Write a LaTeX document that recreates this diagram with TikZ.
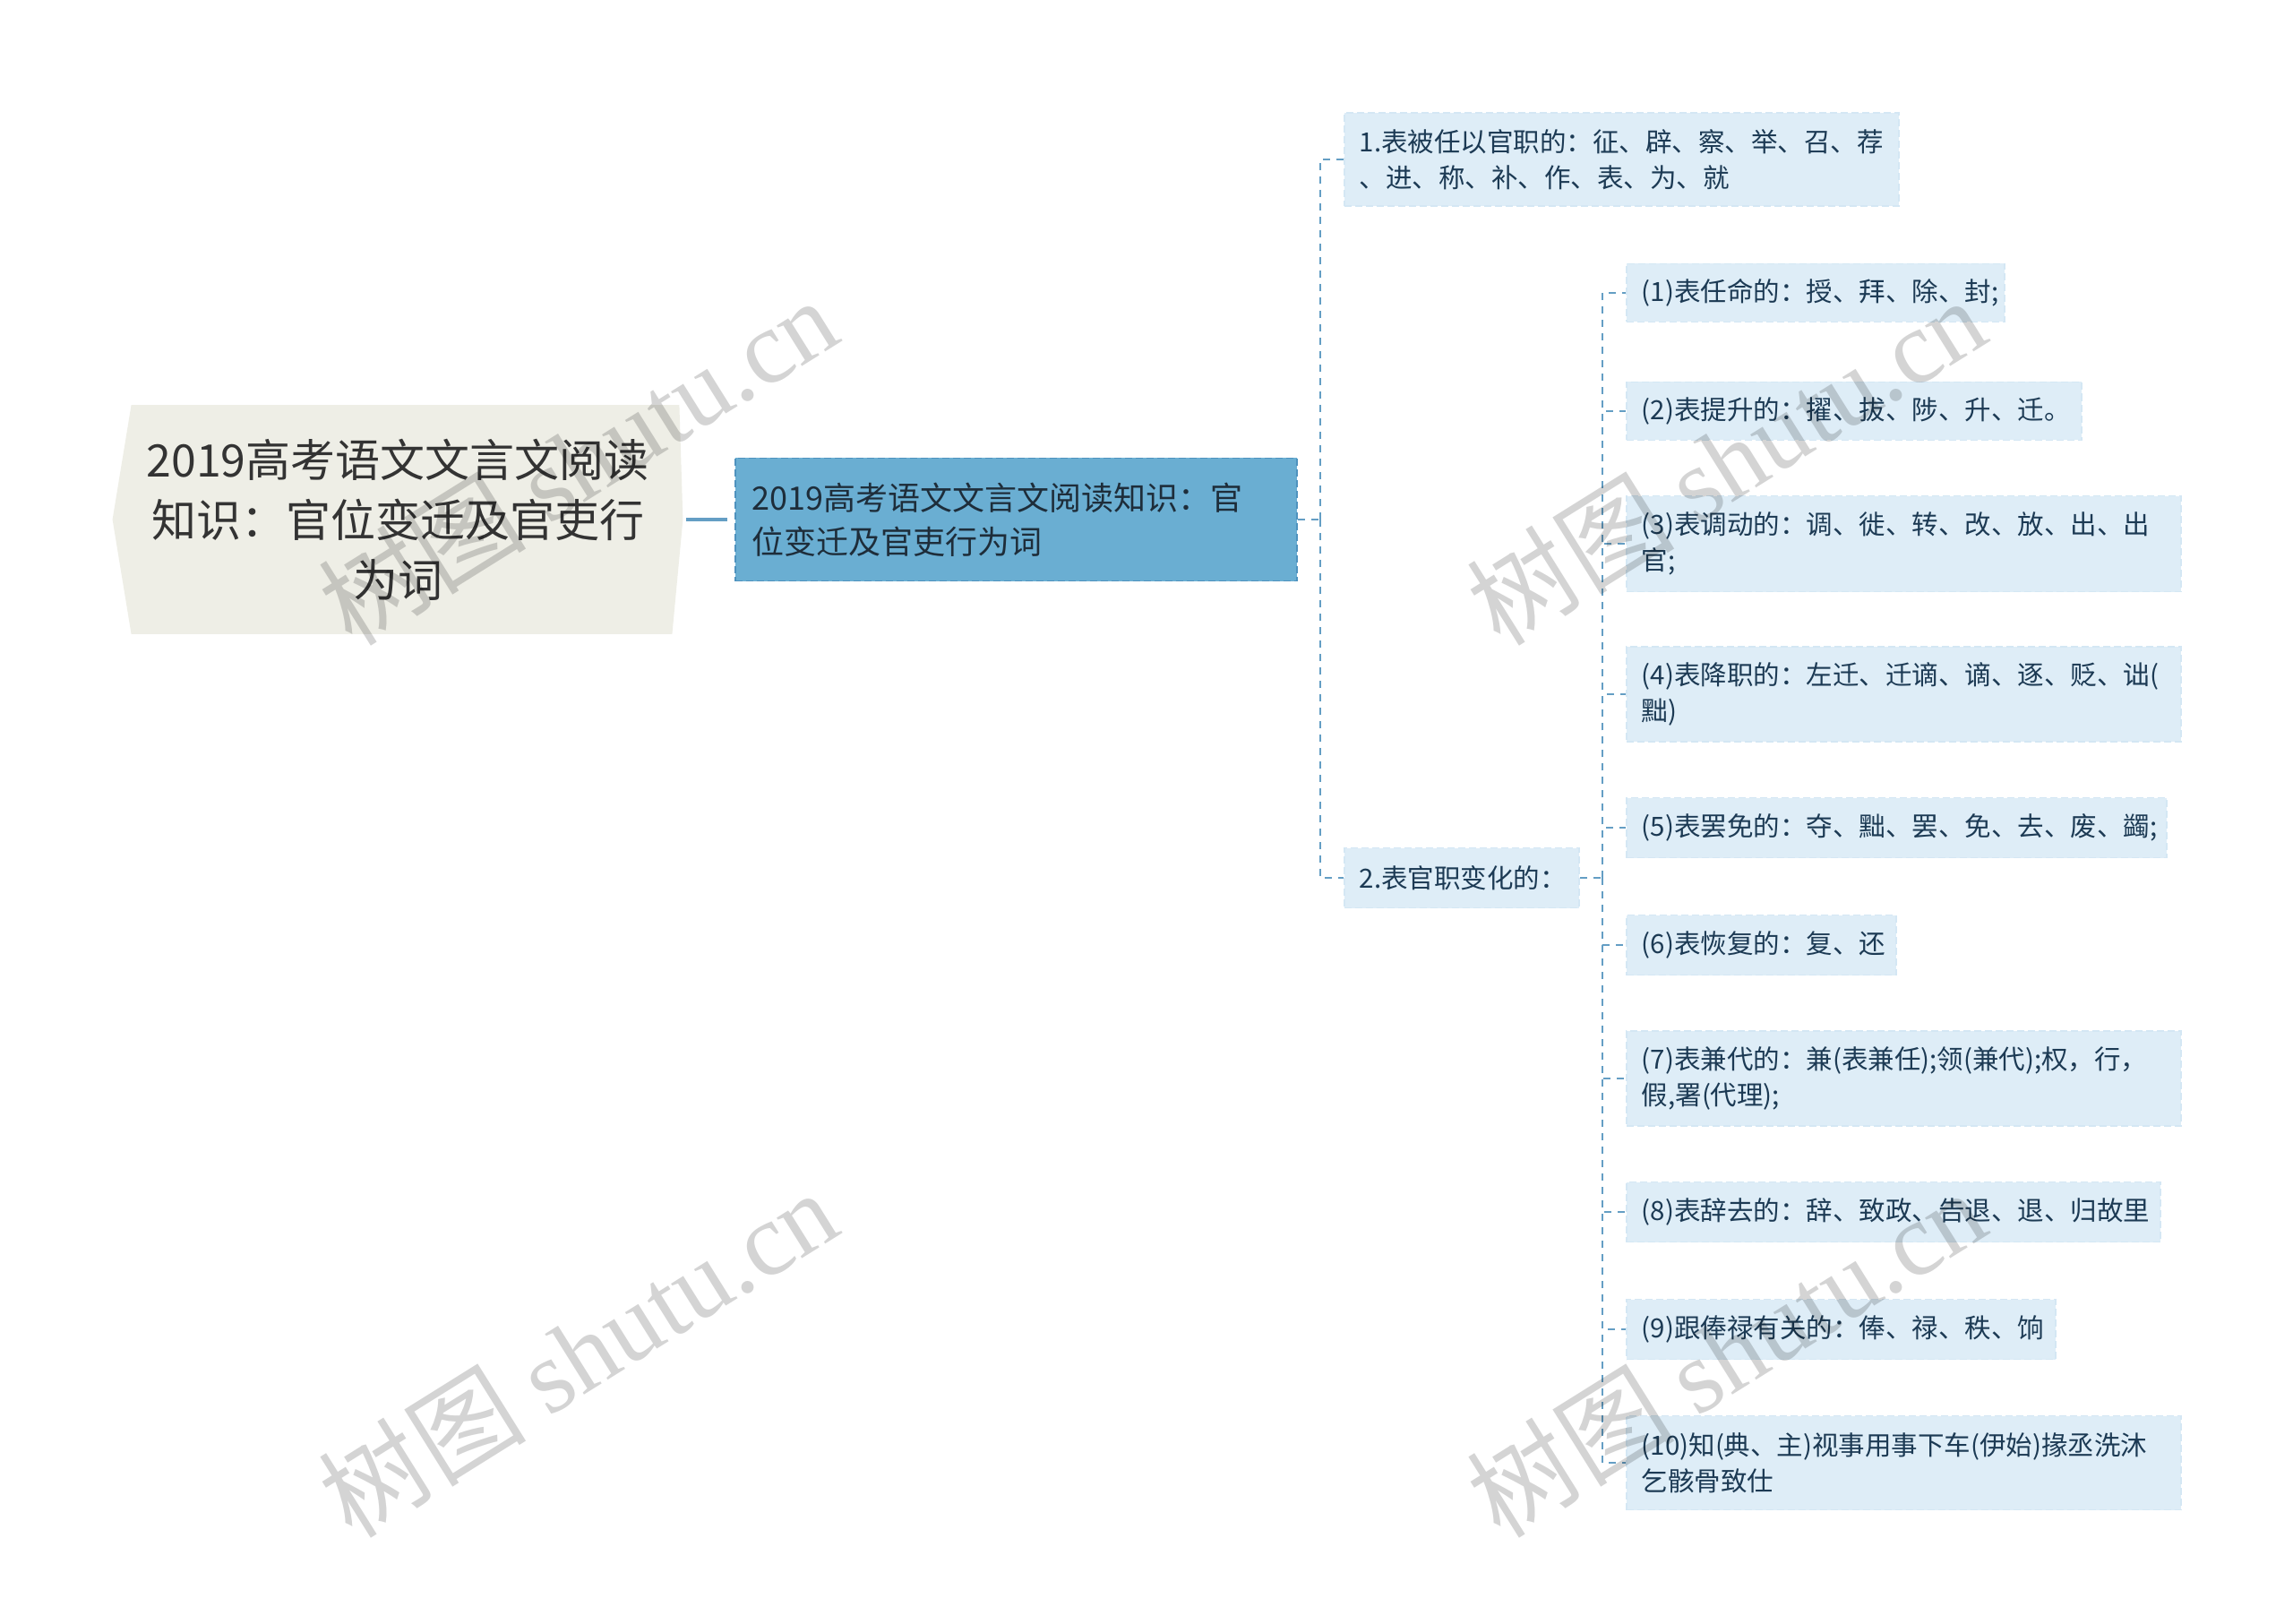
\documentclass[tikz,border=0pt]{standalone}
\usepackage{fontspec}
\setmainfont{Noto Sans CJK SC}
\newfontfamily\wmlat{Liberation Serif}
\usetikzlibrary{calc}
\definecolor{rootfill}{RGB}{238,238,230}
\definecolor{roottext}{RGB}{51,51,51}
\definecolor{mainfill}{RGB}{106,174,210}
\definecolor{mainedge}{RGB}{78,146,190}
\definecolor{maintext}{RGB}{30,45,58}
\definecolor{kidfill}{RGB}{222,237,247}
\definecolor{kidedge}{RGB}{212,231,244}
\definecolor{kidtext}{RGB}{28,58,84}
\definecolor{linkcol}{RGB}{100,158,196}
\tikzset{
  conn/.style={draw=linkcol, line width=0.9pt, dash pattern=on 4pt off 3.5pt},
  solidconn/.style={draw=linkcol, line width=1.6pt},
  kid/.style={anchor=west, fill=kidfill, draw=kidedge, line width=0.8pt, dash pattern=on 4pt off 2pt,
    inner xsep=8.5pt, inner ysep=0pt, align=left, text=kidtext,
    font=\fontsize{14.75pt}{20pt}\selectfont},
  mainbox/.style={anchor=west, fill=mainfill, draw=mainedge, line width=0.9pt, dash pattern=on 4pt off 2pt,
    inner xsep=9.5pt, inner ysep=0pt, align=left, text=maintext,
    font=\fontsize{18pt}{24.5pt}\selectfont},
  rootbox/.style={inner sep=0pt, align=center, text=roottext,
    font=\fontsize{25pt}{33.5pt}\selectfont},
  wmark/.style={rotate=32, text=black, text opacity=0.17, font=\fontsize{58pt}{60pt}\selectfont}
}
\begin{document}
\begin{tikzpicture}[x=1pt,y=-1pt]
\useasboundingbox (0,0) rectangle (1280,906.5);
\fill[white] (0,0) rectangle (1280,906.5);

% root
\node[rootbox, minimum width=318pt, minimum height=127.5pt] (root) at (222,290) {};
\fill[rootfill] ($(root.north west)+(10.5pt,0)$) -- (root.west) -- ($(root.south west)+(10.5pt,0)$)
  -- ($(root.south east)+(-6pt,0)$) -- (root.east) -- ($(root.north east)+(-2pt,0)$) -- cycle;
\node[rootbox] at (root.center) {2019高考语文文言文阅读\\知识：官位变迁及官吏行\\为词};

% main
\node[mainbox, minimum height=68.5pt, text width=294.5pt] (main) at (410,290)
  {2019高考语文文言文阅读知识：官\\位变迁及官吏行为词};

% level 2
\node[kid, minimum height=52pt, text width=292.5pt] (n1) at (750,89)
  {1.表被任以官职的：征、辟、察、举、召、荐\\、进、称、补、作、表、为、就};
\node[kid, minimum height=33.5pt, text width=114pt] (n2) at (750,490)
  {2.表官职变化的：};

% level 3
\node[kid, minimum height=32.5pt, text width=194pt] (c1) at (907.5,163.5)
  {(1)表任命的：授、拜、除、封;};
\node[kid, minimum height=32.5pt, text width=237pt] (c2) at (907.5,229.5)
  {(2)表提升的：擢、拔、陟、升、迁。};
\node[kid, minimum height=53.5pt, text width=292.5pt] (c3) at (907.5,303.5)
  {(3)表调动的：调、徙、转、改、放、出、出\\官;};
\node[kid, minimum height=53pt, text width=292.5pt] (c4) at (907.5,387.5)
  {(4)表降职的：左迁、迁谪、谪、逐、贬、诎(\\黜)};
\node[kid, minimum height=33.5pt, text width=284.5pt] (c5) at (907.5,462)
  {(5)表罢免的：夺、黜、罢、免、去、废、蠲;};
\node[kid, minimum height=33.5pt, text width=133.5pt] (c6) at (907.5,527.5)
  {(6)表恢复的：复、还};
\node[kid, minimum height=53pt, text width=292.5pt] (c7) at (907.5,602)
  {(7)表兼代的：兼(表兼任);领(兼代);权，行，\\假,署(代理);};
\node[kid, minimum height=33.5pt, text width=281pt] (c8) at (907.5,676.5)
  {(8)表辞去的：辞、致政、告退、退、归故里};
\node[kid, minimum height=33.5pt, text width=222.5pt] (c9) at (907.5,742)
  {(9)跟俸禄有关的：俸、禄、秩、饷};
\node[kid, minimum height=52.5pt, text width=292.5pt] (c10) at (907.5,816.5)
  {(10)知(典、主)视事用事下车(伊始)掾丞洗沐\\乞骸骨致仕};

% connectors
\draw[solidconn] ($(root.east)+(2pt,0)$) -- ($(main.west)+(-4pt,0)$);
\coordinate (j1) at (737,290);
\draw[conn] (main.east) -- (j1);
\draw[conn] (j1) |- (n1.west);
\draw[conn] (j1) |- (n2.west);
\coordinate (j2) at (894.5,490);
\draw[conn] (n2.east) -- (j2);
\foreach \c in {c1,c2,c3,c4,c5,c6,c7,c8,c9,c10}{
  \draw[conn] (j2) |- (\c.west);
}

% watermarks
\node[wmark] (w1) at (322.5,257) {树图 {\wmlat shutu.cn}};
\node[wmark] (w2) at (963.5,257) {树图 {\wmlat shutu.cn}};
\node[wmark] (w3) at (322.5,755) {树图 {\wmlat shutu.cn}};
\node[wmark] (w4) at (963.5,755) {树图 {\wmlat shutu.cn}};
\end{tikzpicture}
\end{document}
